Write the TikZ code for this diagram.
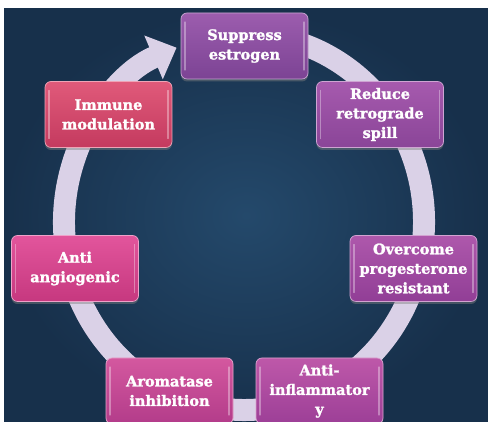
\documentclass[tikz,border=0pt]{standalone}
\usepackage{fontspec}
\setmainfont{DejaVu Serif}
\newfontfamily\boxfont[FakeBold=1.6]{DejaVu Serif Bold}
\usetikzlibrary{arrows.meta,shadows}
\definecolor{bgin}{HTML}{24496B}
\definecolor{bgout}{HTML}{17304B}
\definecolor{ringc}{HTML}{DAD1E7}
\definecolor{supT}{HTML}{9C5DAE}
\definecolor{supB}{HTML}{7C4394}
\definecolor{redT}{HTML}{A65AAE}
\definecolor{redB}{HTML}{8A4598}
\definecolor{immT}{HTML}{E05A7A}
\definecolor{immB}{HTML}{C43A5F}
\definecolor{angT}{HTML}{E2559C}
\definecolor{angB}{HTML}{C6387F}
\definecolor{ovrT}{HTML}{AE58AC}
\definecolor{ovrB}{HTML}{913E96}
\definecolor{aroT}{HTML}{D4589F}
\definecolor{aroB}{HTML}{B33C8A}
\definecolor{infT}{HTML}{BE58A9}
\definecolor{infB}{HTML}{9C3F97}
\begin{document}
\begin{tikzpicture}[x=1pt,y=1pt,
  box/.style args={#1/#2}{rounded corners=6pt, minimum width=127pt, minimum height=66pt,
    text width=124pt, align=center, inner sep=0pt,
    font=\boxfont\fontsize{14.5}{19.5}\selectfont, text=white,
    top color=#1, bottom color=#2, draw=#1!55!white, line width=0.7pt,
    drop shadow={opacity=0.45, shadow xshift=0pt, shadow yshift=-2.5pt},
    path picture={
      \draw[white, opacity=0.35, line width=1.3pt, line cap=round]
        ([xshift=4pt,yshift=-9pt]path picture bounding box.north west) --
        ([xshift=4pt,yshift=9pt]path picture bounding box.south west);
      \draw[white, opacity=0.35, line width=1.3pt, line cap=round]
        ([xshift=-4pt,yshift=-9pt]path picture bounding box.north east) --
        ([xshift=-4pt,yshift=9pt]path picture bounding box.south east);
    }},
  ring/.style={draw=ringc, line width=22pt,
    -{Triangle[length=25pt, width=46pt, fill=ringc]}}
]
\clip (0,0) rectangle (488,422);
\fill[white] (0,0) rectangle (488,422);
\shade[inner color=bgin, outer color=bgout] (4,0) rectangle (488,413);
\coordinate (c) at (244,200);
\draw[ring] (c) ++(80:180pt and 188pt)
  arc[start angle=80, end angle=-248, x radius=180pt, y radius=188pt];
\node[box=supT/supB] (sup) at (244.5,376) {Suppress\\estrogen};
\node[box=redT/redB] (red) at (380,307.5) {Reduce\\retrograde\\spill};
\node[box=immT/immB] (imm) at (108.5,307.5) {Immune\\modulation};
\node[box=angT/angB] (ang) at (75,153.5) {Anti\\angiogenic};
\node[box=ovrT/ovrB] (ovr) at (413.5,153.5) {Overcome\\progesterone\\resistant};
\node[box=aroT/aroB] (aro) at (169.5,31) {Aromatase\\inhibition};
\node[box=infT/infB] (inf) at (319.5,31) {Anti-\\inflammator\\y};
\end{tikzpicture}
\end{document}
